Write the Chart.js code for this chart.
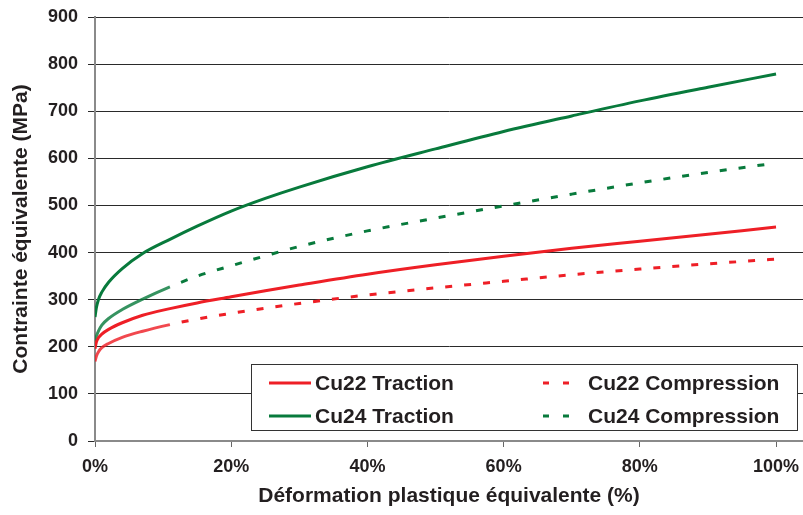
<!DOCTYPE html>
<html lang="fr">
<head>
<meta charset="utf-8">
<title>Contrainte équivalente</title>
<script src="https://cdn.jsdelivr.net/npm/chart.js@4/dist/chart.umd.min.js"></script>
<style>
  html, body { margin: 0; padding: 0; background: #fff; }
  #wrap { position: relative; width: 803px; height: 515px; }
</style>
</head>
<body>
<div id="wrap"><canvas id="chart" width="803" height="515"></canvas></div>
<script>
// Plastic strain (%) sampling points
const strain = [0, 0.2, 0.5, 1, 2, 4, 7, 11, 15, 20, 25, 30, 40, 50, 60, 70, 80, 90, 100];

// Equivalent stress (MPa) for each material / loading case
const cu22Traction    = [196, 210, 219, 227, 237, 251, 267, 281, 293, 306, 319, 331, 354, 374, 392, 409, 424, 439, 454];
const cu22Compression = [169, 180, 189, 198, 207, 220, 233, 247, 259, 271, 282, 292, 310, 325, 339, 353, 365, 376, 386];
const cu24Traction    = [263, 283, 300, 316, 337, 366, 398, 428, 456, 488, 515, 539, 582, 620, 657, 690, 722, 751, 779];
const cu24Compression = [211, 222, 233, 246, 260, 279, 301, 327, 350, 372, 393, 413, 446, 473, 499, 524, 548, 570, 590];

const seriesNames = ['Cu22 Traction', 'Cu22 Compression', 'Cu24 Traction', 'Cu24 Compression'];
const yTicks = [0, 100, 200, 300, 400, 500, 600, 700, 800, 900];
const xTicks = [0, 20, 40, 60, 80, 100];

const RED = '#ee1f26';
const GREEN = '#087a3c';
const DASH = [7, 12];
const DASH_FROM = 11; // compression curves are dashed beyond this strain

const pts = vals => strain.map((x, i) => ({ x, y: vals[i] }));

const dashedAfter = color => ({
  borderDash: ctx => ctx.p0.parsed.x >= DASH_FROM ? DASH : undefined,
  borderDashOffset: ctx => ctx.p0.parsed.x >= DASH_FROM ? 7 : 0,
  borderColor: ctx => ctx.p0.parsed.x >= DASH_FROM ? color : color + 'd0'
});

const datasets = [
  { label: seriesNames[0], data: pts(cu22Traction), borderColor: RED, dashed: false },
  { label: seriesNames[1], data: pts(cu22Compression), borderColor: RED, dashed: true, segment: dashedAfter(RED) },
  { label: seriesNames[2], data: pts(cu24Traction), borderColor: GREEN, dashed: false },
  { label: seriesNames[3], data: pts(cu24Compression), borderColor: GREEN, dashed: true, segment: dashedAfter(GREEN) }
].map(d => Object.assign({
  borderWidth: 3,
  pointRadius: 0,
  fill: false,
  cubicInterpolationMode: 'monotone'
}, d));

const FONT = "'Liberation Sans', Arial, sans-serif";
const TEXT = '#231f20';

// Legend box drawn inside the plot area, two columns x two rows
const boxLegend = {
  id: 'boxLegend',
  afterDraw(chart) {
    const { ctx, chartArea } = chart;
    const right = chartArea.right - 6;
    const bottom = chartArea.bottom - 11;
    const left = 251, top = bottom - 66;
    ctx.save();
    ctx.fillStyle = '#fff';
    ctx.fillRect(left, top, right - left, bottom - top);
    ctx.strokeStyle = '#333';
    ctx.lineWidth = 1;
    ctx.strokeRect(left + 0.5, top + 0.5, right - left, bottom - top);
    ctx.font = `bold 21px ${FONT}`;
    ctx.textBaseline = 'middle';
    chart.data.datasets.forEach((ds, i) => {
      const col = i % 2, row = Math.floor(i / 2);
      const y = top + 19 + row * 33;
      const sx = col === 0 ? left + 18 : left + 292;
      const tx = col === 0 ? left + 64 : left + 337;
      ctx.strokeStyle = ds.borderColor;
      ctx.lineWidth = 3;
      ctx.beginPath();
      if (ds.dashed) {
        ctx.moveTo(sx, y); ctx.lineTo(sx + 6, y);
        ctx.moveTo(sx + 20, y); ctx.lineTo(sx + 26, y);
      } else {
        ctx.moveTo(sx, y); ctx.lineTo(sx + 42, y);
      }
      ctx.stroke();
      ctx.fillStyle = TEXT;
      ctx.fillText(ds.label, tx, y + 1);
    });
    ctx.restore();
  }
};

new Chart(document.getElementById('chart'), {
  type: 'line',
  data: { datasets },
  plugins: [boxLegend],
  options: {
    responsive: false,
    animation: false,
    layout: { padding: { top: 17, right: 0, left: 0, bottom: 0 } },
    plugins: { legend: { display: false }, tooltip: { enabled: false } },
    scales: {
      x: {
        type: 'linear',
        min: 0,
        max: 103.96,
        afterBuildTicks: axis => { axis.ticks = xTicks.map(v => ({ value: v })); },
        afterFit: axis => {
          axis.height = 74;
          axis.paddingLeft = 0;
          axis.paddingRight = 0;
        },
        ticks: {
          callback: v => v + '%',
          font: { family: FONT, size: 18, weight: 'bold' },
          color: TEXT,
          padding: 9,
          maxRotation: 0
        },
        grid: { drawOnChartArea: false, drawTicks: true, tickLength: 6, color: '#666', lineWidth: 1 },
        border: { color: '#8a8a8a', width: 2 },
        title: {
          display: true,
          text: 'Déformation plastique équivalente (%)',
          font: { family: FONT, size: 21, weight: 'bold' },
          color: TEXT,
          padding: { top: 0, bottom: 6 }
        }
      },
      y: {
        min: 0,
        max: 900,
        afterBuildTicks: axis => { axis.ticks = yTicks.map(v => ({ value: v })); },
        afterFit: axis => {
          axis.width = 95;
          axis.paddingTop = 0;
          axis.paddingBottom = 0;
        },
        ticks: {
          font: { family: FONT, size: 18, weight: 'bold' },
          color: TEXT,
          padding: 10
        },
        grid: { color: '#2a2a2a', lineWidth: 1, tickLength: 7, drawTicks: true },
        border: { color: '#8a8a8a', width: 2 },
        title: {
          display: true,
          text: 'Contrainte équivalente (MPa)',
          font: { family: FONT, size: 21, weight: 'bold' },
          color: TEXT,
          padding: { top: 9, bottom: 0 }
        }
      }
    }
  }
});
</script>
</body>
</html>
